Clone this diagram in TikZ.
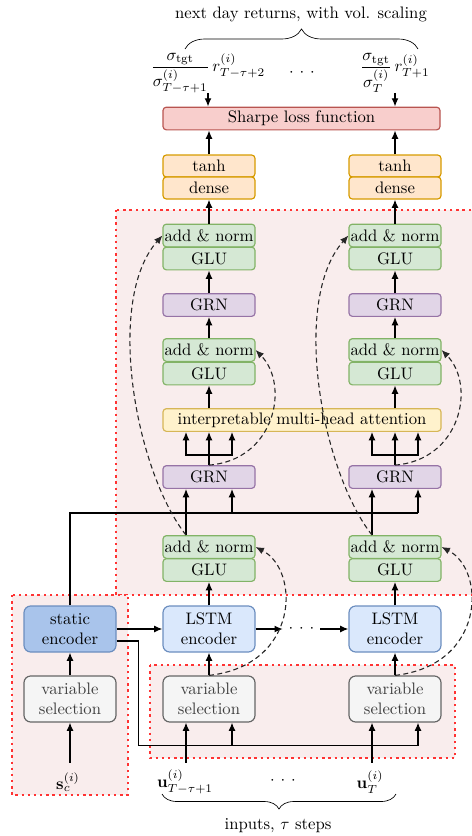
\documentclass[tikz,border=0pt]{standalone}
\usepackage{amssymb}
\usepackage{amsmath}
\usepackage{xcolor}
\usepackage{tikz}
\usetikzlibrary{arrows.meta,calc,decorations,decorations.pathreplacing,positioning}
\definecolor{glufill}{HTML}{D5E8D4}
\definecolor{gluline}{HTML}{82B366}
\definecolor{grnfill}{HTML}{E1D5E7}
\definecolor{grnline}{HTML}{9673A6}
\definecolor{attfill}{HTML}{FFF2CC}
\definecolor{attline}{HTML}{D6B656}
\definecolor{outfill}{HTML}{FFE6CC}
\definecolor{outline}{HTML}{D79B00}
\definecolor{lossfill}{HTML}{F8CECC}
\definecolor{lossline}{HTML}{B85450}
\definecolor{encfill}{HTML}{DAE8FC}
\definecolor{encline}{HTML}{6C8EBF}
\definecolor{statfill}{HTML}{A9C4EB}
\definecolor{vsfill}{HTML}{F5F5F5}
\definecolor{vsline}{HTML}{666666}
\definecolor{regfill}{HTML}{F9EDED}
\definecolor{regline}{HTML}{FF3333}
\tikzset{%
	box/.style      = {draw, rectangle, rounded corners=2pt, minimum width=55.2pt, minimum height=13.6pt, inner sep=0pt, line width=0.7pt, text centered},
	glubox/.style   = {box, fill=glufill, draw=gluline},
	grnbox/.style   = {box, fill=grnfill, draw=grnline},
	attbox/.style   = {box, fill=attfill, draw=attline, minimum width=166.8pt},
	outbox/.style   = {box, fill=outfill, draw=outline, minimum height=13.2pt},
	lossbox/.style  = {box, fill=lossfill, draw=lossline, minimum width=166.2pt},
	bigbox/.style   = {box, rounded corners=4pt, minimum height=27.6pt, align=center},
	encbox/.style   = {bigbox, fill=encfill, draw=encline},
	statbox/.style  = {bigbox, fill=statfill, draw=encline},
	vsbox/.style    = {bigbox, fill=vsfill, draw=vsline, text=black!75},
	region/.style   = {draw=regline, fill=regfill, line width=1.5pt, dash pattern=on 1.4pt off 2.3pt},
	arrow/.style    = {line width=0.8pt,-{Latex[length=5pt,width=4.2pt]}},
	skipline/.style = {line width=0.65pt, black!85, dash pattern=on 3pt off 2pt, -{Latex[length=5pt,width=4.2pt]}},
}
\newcommand{\spdots}{$\cdot$\hspace{3.5pt}$\cdot$\hspace{3.5pt}$\cdot$}

\begin{document}
\begin{tikzpicture}[x=0.6pt,y=-0.6pt]
		\useasboundingbox (0,0) rectangle (472,836);
		% dotted regions
		\draw[region] (116,210) rectangle (485,595);
		\draw[region] (12,595) rectangle (128,795);
		\draw[region] (150,665) rectangle (455,758);
		
		% outputs
		\node (outlbl) at (301,14) {next day returns, with vol. scaling};
		\draw[decorate,decoration={brace,amplitude=12pt}] (185,49) -- (418,49);
		\node[inner sep=0pt] (reta) at (208,73) {$\dfrac{\sigma_{\mathrm{tgt}}}{\sigma^{(i)}_{T-\tau+1}}\,r^{(i)}_{T-\tau+2}$};
		\node[inner sep=0pt] (retb) at (395,73) {$\dfrac{\sigma_{\mathrm{tgt}}}{\sigma^{(i)}_{T}}\,r^{(i)}_{T+1}$};
		\node (tdots) at (302,73) {\spdots};
		\node[lossbox] (loss) at (301.5,118.5) {Sharpe loss function};
		
		% decoder columns
		\foreach \c/\x in {a/209,b/395} {
			\node[outbox] (tanh\c) at (\x,166) {tanh};
			\node[outbox] (dense\c) at (\x,188) {dense};
			\node[glubox] (an1\c) at (\x,235.5) {add \& norm};
			\node[glubox] (glu1\c) at (\x,258.5) {GLU};
			\node[grnbox] (grn1\c) at (\x,305) {GRN};
			\node[glubox] (an2\c) at (\x,350) {add \& norm};
			\node[glubox] (glu2\c) at (\x,373.5) {GLU};
			\node[grnbox] (grn2\c) at (\x,477) {GRN};
			\node[glubox] (an3\c) at (\x,547) {add \& norm};
			\node[glubox] (glu3\c) at (\x,570) {GLU};
			\node[encbox] (lstm\c) at (\x,629) {LSTM\\encoder};
			\node[vsbox] (vs\c) at (\x,699) {variable\\selection};
		}
		\node[attbox] (att) at (302,420) {interpretable multi-head attention};
		
		% static side
		\node[statbox] (statenc) at (70,629) {static\\encoder};
		\node[vsbox] (vsstat) at (70,699) {variable\\selection};
		\node (hdots) at (301.5,629) {\spdots};
		
		% inputs
		\node (sin) at (68,782) {$\mathbf{s}^{(i)}_{c}$};
		\node (ua) at (185,782) {$\mathbf{u}^{(i)}_{T-\tau+1}$};
		\node (ub) at (370,782) {$\mathbf{u}^{(i)}_{T}$};
		\node (udots) at (283,781) {\spdots};
		\draw[decorate,decoration={brace,mirror,amplitude=9pt}] (162,794) -- (396,794);
		\node (inlbl) at (278,826) {inputs, $\tau$ steps};
		
		% connectors
		\draw[arrow] (reta.south) -- (reta.south |- loss.north);
		\draw[arrow] (retb.south) -- (retb.south |- loss.north);
		\foreach \c in {a,b} {
			\draw[arrow] (tanh\c) -- (tanh\c |- loss.south);
			\draw[arrow] (an1\c) -- (dense\c);
			\draw[arrow] (grn1\c) -- (glu1\c);
			\draw[arrow] (an2\c) -- (grn1\c);
			\draw[arrow] (glu2\c.south |- att.north) -- (glu2\c);
			\draw[arrow] (grn2\c.north) -- (grn2\c.north |- att.south);
			\draw[arrow] ($(grn2\c.north)+(0,-10)$) -| ($(att.south -| grn2\c.north)+(-23,0)$);
			\draw[arrow] ($(grn2\c.north)+(0,-10)$) -| ($(att.south -| grn2\c.north)+(23,0)$);
			\draw[arrow] ($(an3\c.north)+(-23,0)$) -- ($(grn2\c.south)+(-23,0)$);
			\draw[arrow] ($(grn2\c.south)+(23,24)$) -- ($(grn2\c.south)+(23,0)$);
			\draw[arrow] (lstm\c) -- (glu3\c);
			\draw[arrow] (vs\c) -- (lstm\c);
			\draw[arrow] ($(vs\c.south)+(23,23)$) -- ($(vs\c.south)+(23,0)$);
			\draw[arrow] ($(vs\c.south)+(-23,40)$) -- ($(vs\c.south)+(-23,0)$);
		}
		\draw[line width=0.8pt] (statenc.north) |- ($(grn2b.south)+(23,24)$);
		\draw[line width=0.8pt] ($(statenc.east)+(0,12)$) -- ++(22,0) |- ($(vsb.south)+(23,23)$);
		\draw[arrow] (statenc) -- (lstma);
		\draw[arrow] (lstma) -- (hdots);
		\draw[arrow] (hdots) -- (lstmb);
		\draw[arrow] (vsstat) -- (statenc);
		\draw[arrow] ($(vsstat.south)+(0,40)$) -- (vsstat.south);
		
		% skip connections
		\foreach \c/\dx in {a/0,b/186} {
			\draw[skipline] (vs\c.north) .. controls (300+\dx,665) and (300+\dx,570) .. (an3\c.east);
			\draw[skipline] (grn2\c.north) .. controls (275+\dx,460) and (290+\dx,385) .. (an2\c.east);
			\draw[skipline] ($(an3\c.north)+(-23,0)$) .. controls (135+\dx,470) and (105+\dx,300) .. (an1\c.west);
		}
		
\end{tikzpicture}
\end{document}
